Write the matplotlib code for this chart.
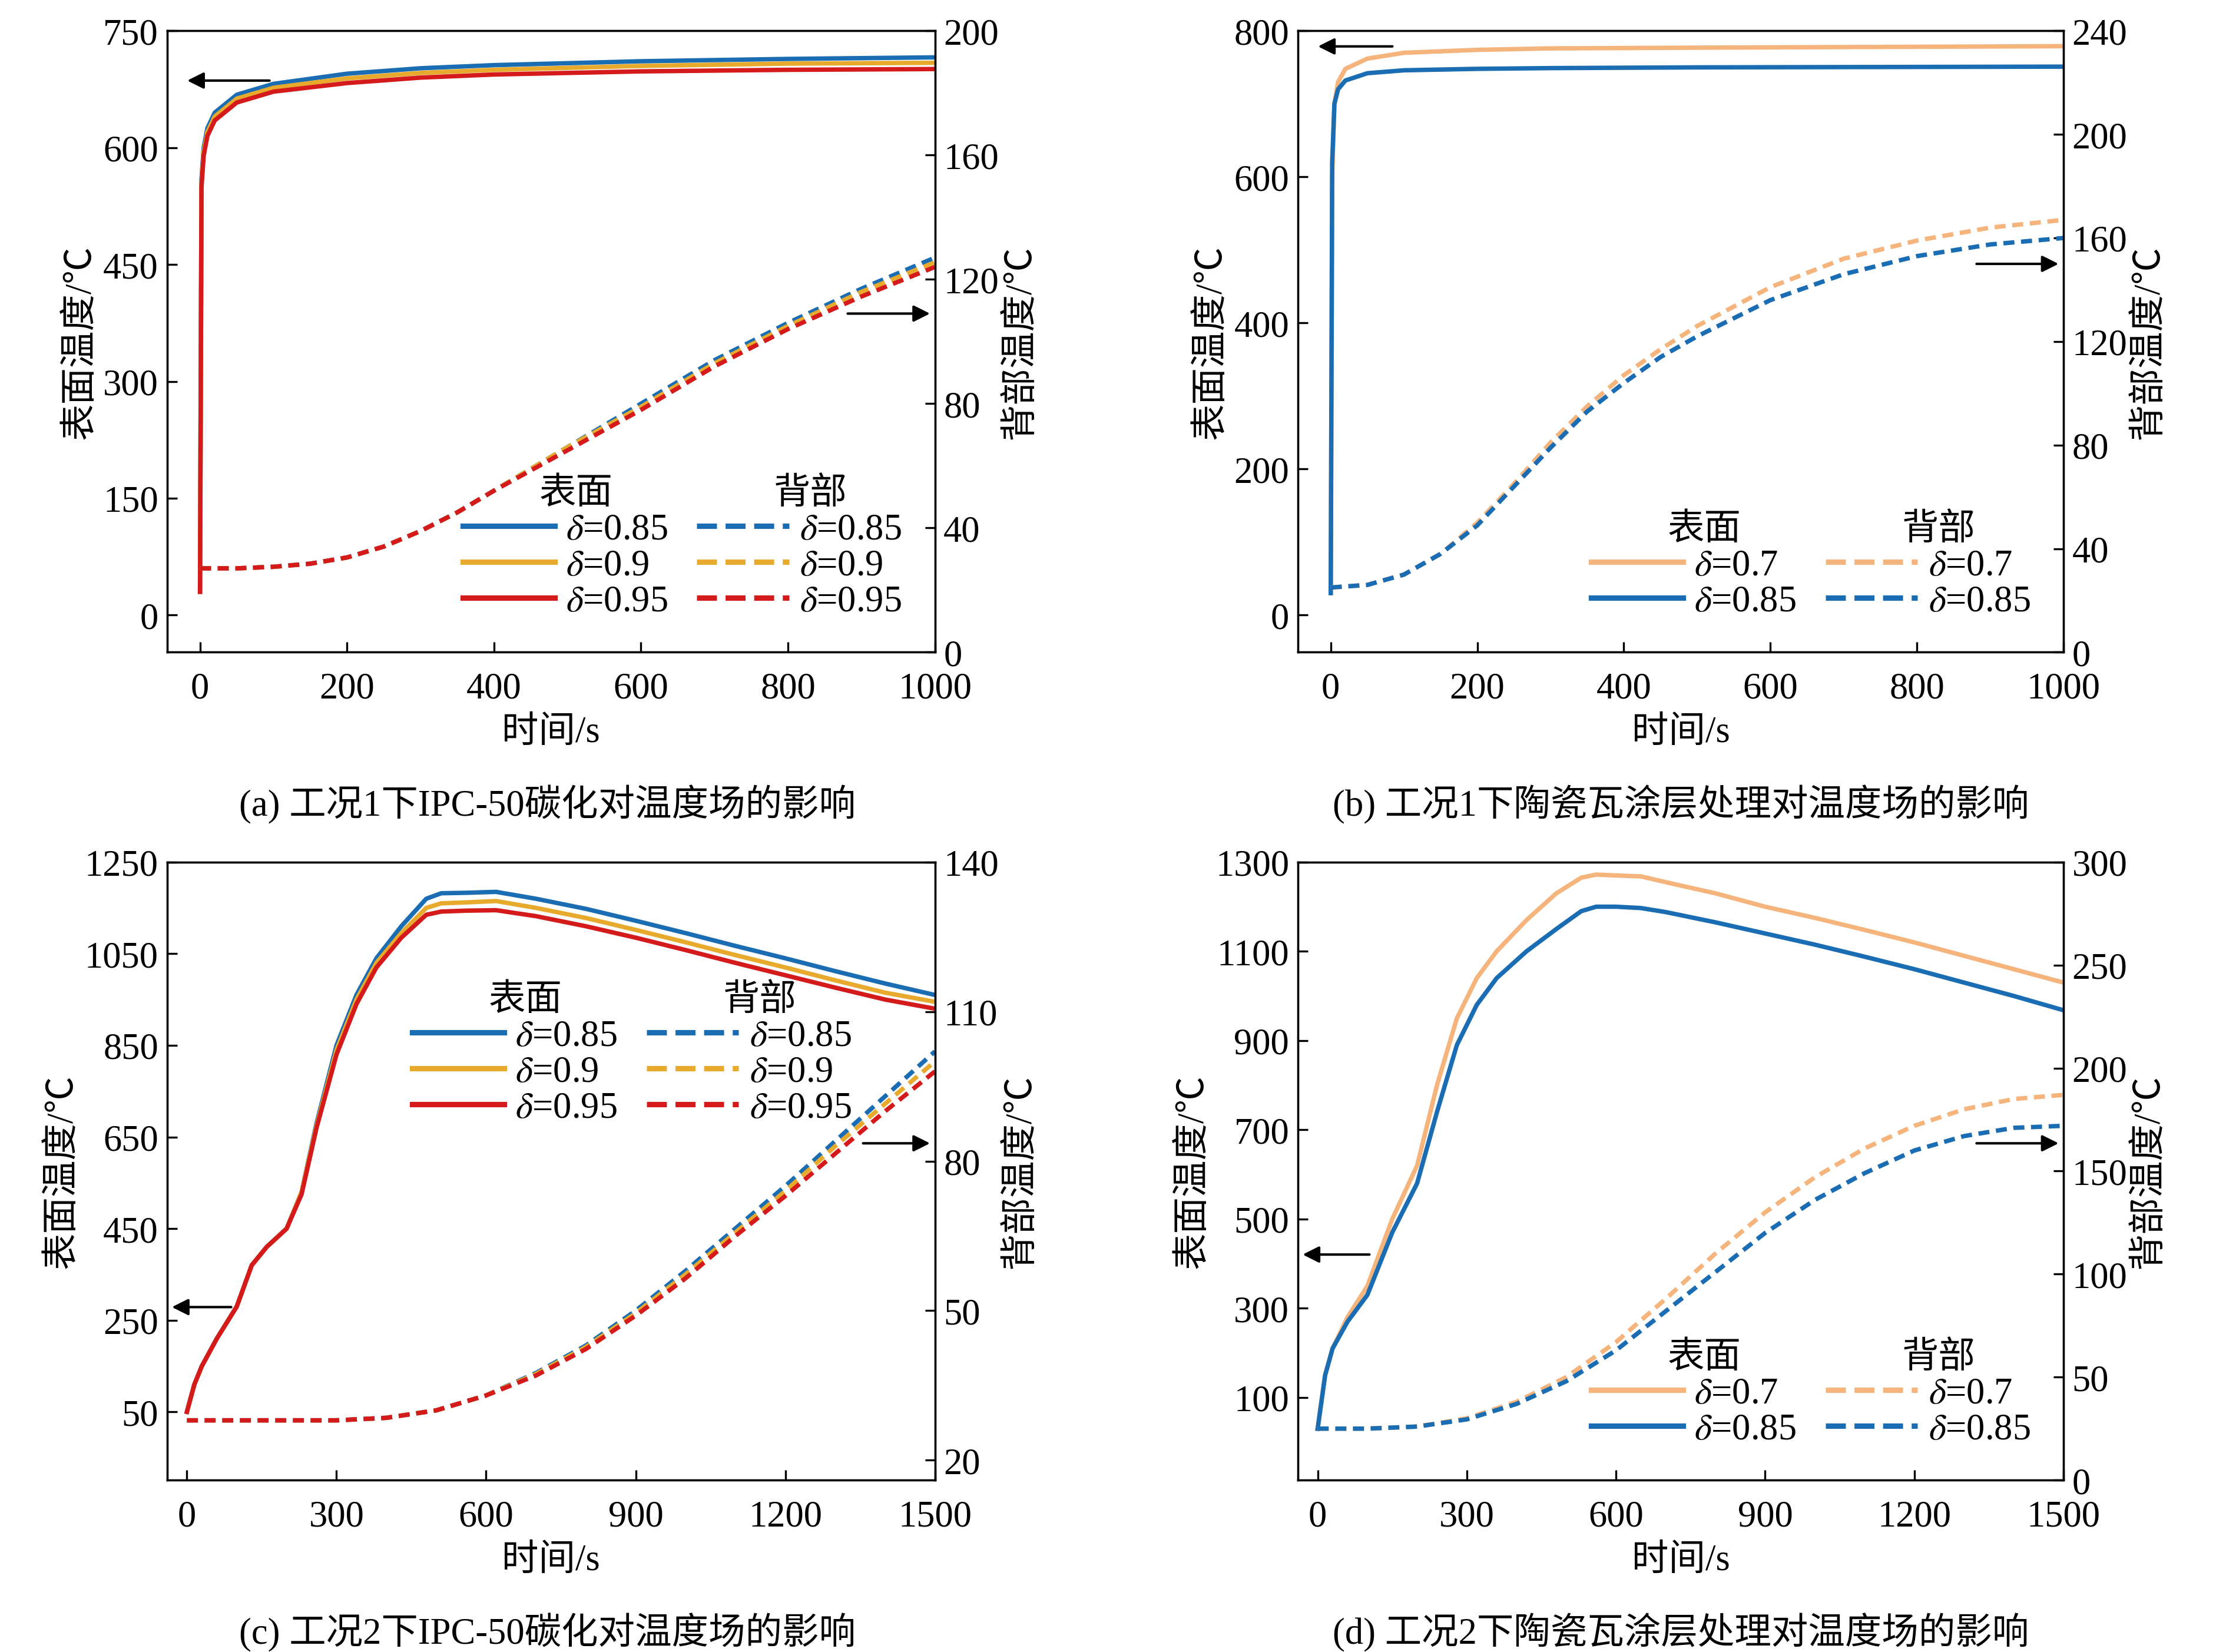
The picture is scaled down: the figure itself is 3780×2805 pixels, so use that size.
import matplotlib
matplotlib.use("Agg")
import matplotlib.pyplot as plt
from matplotlib.lines import Line2D

plt.rcParams['font.family'] = ['Liberation Serif', 'Noto Sans CJK SC']
plt.rcParams['mathtext.fontset'] = 'stix'
plt.rcParams['font.size'] = 15

BLUE = '#1a6db3'
YEL = '#e8aa2c'
RED = '#d41a1a'
ORG = '#f5b47c'

# ---- (a) 工况1 IPC-50
a_t = [0, 2, 5, 10, 20, 50, 100, 200, 300, 400, 600, 800, 1000]
a_s085 = [30, 560, 600, 625, 645, 668, 682, 695, 702, 706, 711, 714, 716]
a_s09 = [30, 555, 595, 620, 640, 663, 677, 689, 696, 700, 705, 708, 709]
a_s095 = [30, 550, 590, 615, 635, 658, 672, 683, 690, 694, 698, 700, 701]
a_bt = [0, 50, 100, 150, 200, 250, 300, 350, 400, 450, 500, 600, 700, 800, 900, 1000]
a_b085 = [27, 27, 27.5, 28.5, 30.5, 34, 39, 45, 52, 59, 66, 80, 94, 106, 117, 127]
a_b09 = [27, 27, 27.5, 28.5, 30.5, 34, 39, 45, 52, 59, 66, 79, 93, 105, 116, 125.5]
a_b095 = [27, 27, 27.5, 28.5, 30.5, 34, 39, 45, 52, 58.5, 65, 78, 92, 104, 114.5, 124]

# ---- (b) 工况1 陶瓷瓦涂层
b_t = [0, 2, 5, 10, 20, 50, 100, 200, 300, 500, 1000]
b_s07 = [30, 600, 700, 730, 748, 762, 770, 774, 776, 777, 779]
b_s085 = [30, 620, 700, 720, 732, 742, 746, 748, 749, 750, 751]
b_bt = [0, 50, 100, 150, 200, 250, 300, 350, 400, 450, 500, 600, 700, 800, 900, 1000]
b_b07 = [25, 26, 30, 38, 50, 65, 81, 95, 107, 117, 126, 141, 152, 159, 164, 167]
b_b085 = [25, 26, 30, 38, 49, 64, 79, 93, 104, 114, 122, 136, 146, 153, 157.5, 160]

# ---- (c) 工况2 IPC-50
c_t = [0, 15, 30, 60, 100, 130, 160, 200, 230, 260, 300, 340, 380, 430, 480, 510, 560, 620, 700, 800, 900, 1000, 1100, 1200, 1300, 1400, 1500]
c_s085 = [50, 110, 150, 210, 280, 370, 410, 450, 530, 680, 850, 960, 1040, 1110, 1170, 1182, 1183, 1185, 1170, 1148, 1122, 1095, 1067, 1040, 1012, 985, 960]
c_s09 = [50, 110, 150, 210, 280, 370, 410, 450, 530, 675, 840, 950, 1030, 1095, 1150, 1160, 1162, 1165, 1150, 1128, 1102, 1075, 1047, 1020, 992, 965, 945]
c_s095 = [50, 110, 150, 210, 280, 370, 410, 450, 525, 670, 830, 940, 1020, 1085, 1135, 1142, 1144, 1145, 1132, 1110, 1085, 1058, 1030, 1003, 976, 950, 930]
c_bt = [0, 300, 400, 500, 600, 700, 800, 900, 1000, 1100, 1200, 1300, 1400, 1500]
c_b085 = [28, 28, 28.5, 30, 33, 37.5, 43, 50, 58, 66.5, 75, 84, 93, 102]
c_b09 = [28, 28, 28.5, 30, 33, 37.3, 42.7, 49.5, 57.3, 65.7, 74, 83, 91.5, 100]
c_b095 = [28, 28, 28.5, 30, 33, 37, 42.3, 49, 56.5, 65, 73, 81.5, 90, 98]

# ---- (d) 工况2 陶瓷瓦涂层
d_t = [0, 15, 30, 60, 100, 150, 200, 240, 280, 320, 360, 420, 480, 530, 560, 600, 650, 700, 800, 900, 1000, 1100, 1200, 1300, 1400, 1500]
d_s07 = [30, 150, 210, 280, 350, 500, 620, 800, 950, 1040, 1100, 1170, 1230, 1265, 1272, 1270, 1268, 1255, 1230, 1200, 1175, 1148, 1120, 1090, 1060, 1030]
d_s085 = [30, 150, 210, 270, 330, 470, 580, 740, 890, 980, 1040, 1100, 1150, 1190, 1200, 1200, 1197, 1188, 1165, 1140, 1115, 1088, 1060, 1030, 1000, 968]
d_bt = [0, 100, 200, 300, 400, 500, 600, 700, 800, 900, 1000, 1100, 1200, 1300, 1400, 1500]
d_b07 = [25, 25, 26, 30, 38, 50, 67, 88, 110, 130, 147, 161, 172, 180, 185, 187]
d_b085 = [25, 25, 26, 29.5, 37, 48, 63, 82, 101, 120, 136, 149, 160, 167, 171, 172]

fig = plt.figure(figsize=(12.6, 9.353), dpi=300)

def setup(rect, xlim, xticks, ylim, yticks, y2lim, y2ticks):
    ax = fig.add_axes(rect)
    ax2 = ax.twinx()
    ax.set_xlim(*xlim); ax.set_xticks(xticks)
    ax.set_ylim(*ylim); ax.set_yticks(yticks)
    ax2.set_ylim(*y2lim); ax2.set_yticks(y2ticks)
    for a in (ax, ax2):
        a.tick_params(direction='in', length=4, width=0.8, labelsize=15)
    ax.tick_params(axis='x', pad=8)
    ax.set_xlabel('时间/s', fontsize=15, labelpad=4)
    ax.set_ylabel('表面温度/℃', fontsize=15, labelpad=2)
    ax2.set_ylabel('背部温度/℃', fontsize=15, labelpad=2)
    return ax, ax2

def legend(ax, colors, labels, loc):
    h = [Line2D([], [], color='none')]
    for c in colors:
        h.append(Line2D([], [], color=c, lw=2.2))
    h.append(Line2D([], [], color='none'))
    for c in colors:
        h.append(Line2D([], [], color=c, lw=2.2, ls='--'))
    lab = ['表面'] + labels + ['背部'] + labels
    leg = ax.legend(h, lab, ncol=2, loc=loc, frameon=False, handlelength=2.5,
                    labelspacing=0.05, columnspacing=0.8, handletextpad=0.3, fontsize=15)
    for i in (0, len(colors) + 1):
        leg.get_texts()[i].set_x(-45)

def arrow(ax, x0, x1, y):
    ax.annotate('', xy=(x1, y), xytext=(x0, y), xycoords='axes fraction',
                arrowprops=dict(arrowstyle='-|>', color='k', lw=1, mutation_scale=14))

lw = 1.8
lab3 = [r'$\delta$=0.85', r'$\delta$=0.9', r'$\delta$=0.95']
lab2 = [r'$\delta$=0.7', r'$\delta$=0.85']

# (a)
ax, ax2 = setup([0.075, 0.605, 0.345, 0.376], (-45, 1000), range(0, 1001, 200),
                (-47.6, 750), range(0, 751, 150), (0, 200), range(0, 201, 40))
for s, b, c in [(a_s085, a_b085, BLUE), (a_s09, a_b09, YEL), (a_s095, a_b095, RED)]:
    ax.plot(a_t, s, color=c, lw=lw)
    ax2.plot(a_bt, b, color=c, lw=lw, ls='--', dashes=(2.5, 1.5))
legend(ax, [BLUE, YEL, RED], lab3, 'lower right')
arrow(ax, 0.14, 0.02, 0.92)
arrow(ax, 0.88, 1.0, 0.545)

# (b)
ax, ax2 = setup([0.583, 0.605, 0.344, 0.376], (-45, 1000), range(0, 1001, 200),
                (-51, 800), range(0, 801, 200), (0, 240), range(0, 241, 40))
for s, b, c in [(b_s07, b_b07, ORG), (b_s085, b_b085, BLUE)]:
    ax.plot(b_t, s, color=c, lw=lw)
    ax2.plot(b_bt, b, color=c, lw=lw, ls='--', dashes=(2.5, 1.5))
legend(ax, [ORG, BLUE], lab2, 'lower right')
arrow(ax, 0.13, 0.02, 0.975)
arrow(ax, 0.88, 1.0, 0.625)

# (c)
ax, ax2 = setup([0.075, 0.104, 0.345, 0.374], (-40, 1500), range(0, 1501, 300),
                (-99, 1250), range(50, 1251, 200), (16, 140), range(20, 141, 30))
for s, b, c in [(c_s085, c_b085, BLUE), (c_s09, c_b09, YEL), (c_s095, c_b095, RED)]:
    ax.plot(c_t, s, color=c, lw=lw)
    ax2.plot(c_bt, b, color=c, lw=lw, ls='--', dashes=(2.5, 1.5))
legend(ax, [BLUE, YEL, RED], lab3, (0.3, 0.55))
arrow(ax, 0.09, 0.0, 0.28)
arrow(ax, 0.9, 1.0, 0.545)

# (d)
ax, ax2 = setup([0.583, 0.104, 0.344, 0.374], (-40, 1500), range(0, 1501, 300),
                (-85, 1300), range(100, 1301, 200), (0, 300), range(0, 301, 50))
for s, b, c in [(d_s07, d_b07, ORG), (d_s085, d_b085, BLUE)]:
    ax.plot(d_t, s, color=c, lw=lw)
    ax2.plot(d_bt, b, color=c, lw=lw, ls='--', dashes=(2.5, 1.5))
legend(ax, [ORG, BLUE], lab2, 'lower right')
arrow(ax, 0.1, 0.0, 0.365)
arrow(ax, 0.88, 1.0, 0.545)

fig.text(0.246, 0.513, '(a) 工况1下IPC-50碳化对温度场的影响', ha='center', va='center', fontsize=15)
fig.text(0.755, 0.513, '(b) 工况1下陶瓷瓦涂层处理对温度场的影响', ha='center', va='center', fontsize=15)
fig.text(0.246, 0.012, '(c) 工况2下IPC-50碳化对温度场的影响', ha='center', va='center', fontsize=15)
fig.text(0.755, 0.012, '(d) 工况2下陶瓷瓦涂层处理对温度场的影响', ha='center', va='center', fontsize=15)

fig.savefig('out.png', dpi=300)
